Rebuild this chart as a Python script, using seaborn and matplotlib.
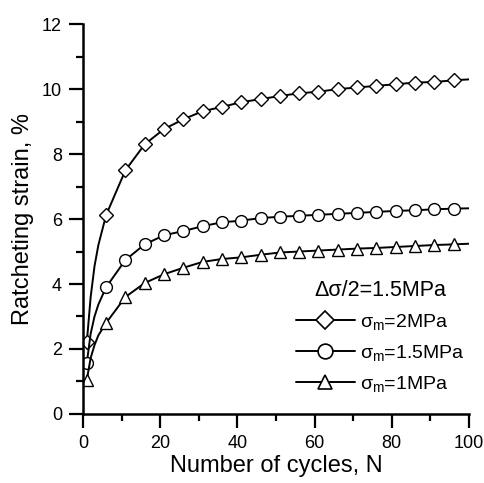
import matplotlib
matplotlib.use("Agg")
import matplotlib.pyplot as plt
import seaborn as sns
import pandas as pd

# ---- data ----
cycles = [1, 6, 11, 16, 21, 26, 31, 36, 41, 46, 51, 56, 61, 66, 71, 76, 81, 86, 91, 96]
strain_2mpa = [2.2, 6.12, 7.5, 8.3, 8.77, 9.07, 9.32, 9.45, 9.6, 9.69, 9.79, 9.87,
               9.92, 10.0, 10.05, 10.1, 10.15, 10.2, 10.22, 10.27]
strain_15mpa = [1.57, 3.9, 4.74, 5.22, 5.5, 5.63, 5.78, 5.9, 5.95, 6.03, 6.07, 6.1,
                6.13, 6.16, 6.19, 6.22, 6.25, 6.27, 6.3, 6.32]
strain_1mpa = [1.05, 2.8, 3.6, 4.03, 4.3, 4.5, 4.68, 4.77, 4.82, 4.9, 4.97, 5.0,
               5.03, 5.06, 5.09, 5.11, 5.14, 5.17, 5.2, 5.22]

# fitted-curve values (line only, no markers)
curve_cycles_start = [2, 3, 4]
curve_2mpa_start = [3.6, 4.55, 5.2]
curve_15mpa_start = [2.47, 3.0, 3.37]
curve_1mpa_start = [1.72, 2.12, 2.42]
end_cycle = 100
end_values = [10.3, 6.33, 5.24]

labels = [r"$\sigma_m$=2MPa", r"$\sigma_m$=1.5MPa", r"$\sigma_m$=1MPa"]
markers = ["D", "o", "^"]
legend_title = "\u0394\u03c3/2=1.5MPa"
xticks = [0, 20, 40, 60, 80, 100]
yticks = [0, 2, 4, 6, 8, 10, 12]

sns.set_style("ticks")
plt.rcParams["font.family"] = ["Liberation Sans", "DejaVu Sans"]
plt.rcParams["mathtext.fontset"] = "custom"
plt.rcParams["mathtext.rm"] = "Liberation Sans"
plt.rcParams["mathtext.it"] = "Liberation Sans"
plt.rcParams["text.color"] = "black"
plt.rcParams["axes.labelcolor"] = "black"
plt.rcParams["xtick.color"] = "black"
plt.rcParams["ytick.color"] = "black"

fig = plt.figure(figsize=(4.85, 4.83), dpi=100)
ax = fig.add_axes([0.171, 0.143, 0.796, 0.807])

series = [strain_2mpa, strain_15mpa, strain_1mpa]
starts = [curve_2mpa_start, curve_15mpa_start, curve_1mpa_start]
handles = []
for vals, st, lab, mk, endv in zip(series, starts, labels, markers, end_values):
    xs = [cycles[0]] + curve_cycles_start + cycles[1:] + [end_cycle]
    ys = [vals[0]] + st + vals[1:] + [endv]
    df_line = pd.DataFrame({"N": xs, "s": ys})
    sns.lineplot(data=df_line, x="N", y="s", ax=ax, color="black", linewidth=1.4,
                 estimator=None, sort=False)
    df = pd.DataFrame({"N": cycles, "s": vals})
    ms = 8.5 if mk != "D" else 7
    sns.lineplot(data=df, x="N", y="s", ax=ax, color="black", linestyle="none",
                 marker=mk, markersize=ms, markerfacecolor="white",
                 markeredgecolor="black", markeredgewidth=1.0, estimator=None)
    h, = ax.plot([], [], color="black", linewidth=1.4, marker=mk, markersize=ms * 1.25,
                 markerfacecolor="white", markeredgecolor="black", markeredgewidth=1.2,
                 label=lab)
    handles.append(h)

ax.set_xlim(0, 100)
ax.set_ylim(0, 12)
ax.set_xticks(xticks)
ax.set_yticks(yticks)
ax.set_xticks(range(10, 100, 20), minor=True)
ax.set_yticks(range(1, 12, 2), minor=True)
ax.tick_params(which="major", direction="out", length=10, width=1.6, labelsize=13, pad=5)
ax.tick_params(which="minor", direction="out", length=5, width=1.6)
for sp in ["top", "right"]:
    ax.spines[sp].set_visible(False)
for sp in ["left", "bottom"]:
    ax.spines[sp].set_linewidth(1.8)
    ax.spines[sp].set_color("black")

ax.set_xlabel("Number of cycles, N", fontsize=17, labelpad=2)
ax.set_ylabel("Ratcheting strain, %", fontsize=17, labelpad=6)

leg = ax.legend(handles=handles, title=legend_title, loc="lower right",
                bbox_to_anchor=(1.02, 0.022), frameon=False, fontsize=14,
                title_fontsize=15.5, handlelength=3.0, handletextpad=0.3,
                labelspacing=0.56, borderaxespad=0.2)

fig.savefig("out.png", dpi=100)
